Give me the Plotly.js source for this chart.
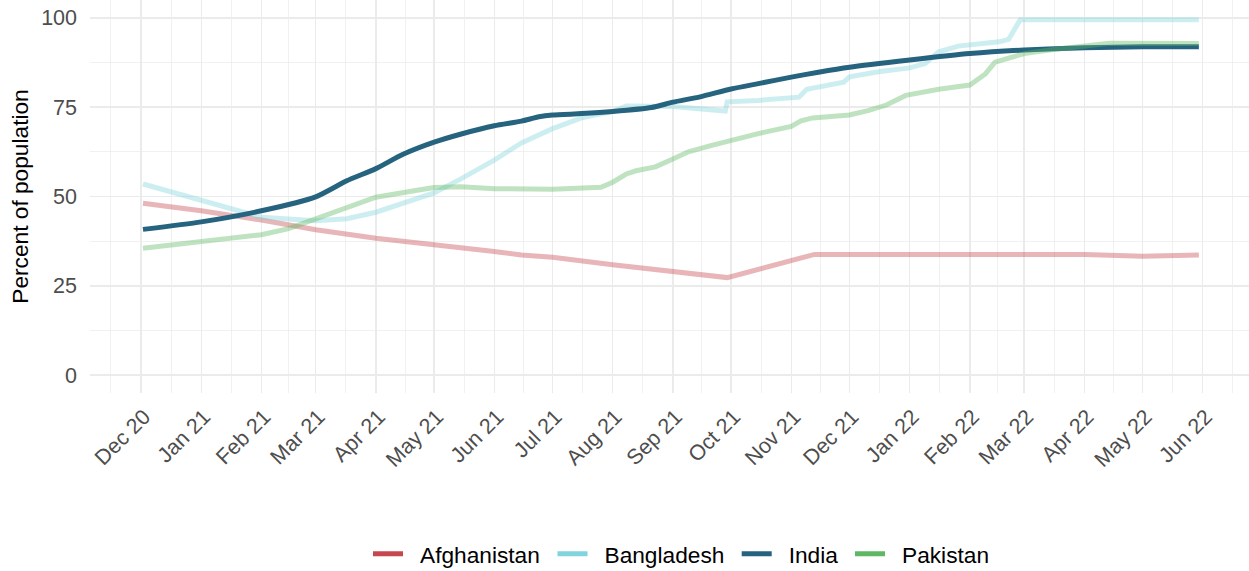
<!DOCTYPE html>
<html><head><meta charset="utf-8">
<script src="https://cdn.plot.ly/plotly-3.0.1.min.js"></script>
<style>html,body{margin:0;padding:0;background:#fff}#chart{width:1249px;height:571px}</style>
</head><body><div id="chart"></div>
<script>
const countries = ['Afghanistan', 'Bangladesh', 'India', 'Pakistan'];
const legendColors = ['#C6474F', '#82D4DC', '#26637F', '#5FB864'];
const lineColors = ['rgba(198,71,79,0.4)', 'rgba(130,212,220,0.4)', 'rgba(38,99,127,1)', 'rgba(95,184,100,0.4)'];

const afgDates = ['2020-12-02','2021-01-01','2021-02-01','2021-03-01','2021-04-01','2021-05-01','2021-06-01','2021-06-15','2021-07-01','2021-08-01','2021-09-01','2021-09-29','2021-11-13','2021-12-01','2022-01-01','2022-01-12','2022-02-01','2022-03-01','2022-04-01','2022-05-01','2022-05-30'];
const afgValues = [48.1, 46.0, 43.4, 40.7, 38.3, 36.6, 34.6, 33.6, 33.0, 30.9, 29.0, 27.3, 33.8, 33.8, 33.9, 34.1, 33.9, 34.0, 33.8, 33.3, 33.6];

const bgdDates = ['2020-12-02','2021-01-01','2021-01-21','2021-02-01','2021-03-01','2021-03-17','2021-04-01','2021-04-15','2021-05-01','2021-05-15','2021-06-01','2021-06-15','2021-07-01','2021-07-16','2021-08-01','2021-08-08','2021-09-01','2021-09-28','2021-09-29','2021-10-15','2021-11-05','2021-11-09','2021-11-28','2021-12-01','2021-12-16','2022-01-01','2022-01-09','2022-01-16','2022-01-26','2022-02-16','2022-02-21','2022-02-27','2022-05-30'];
const bgdValues = [53.5, 49.0, 45.7, 44.2, 43.2, 43.8, 45.6, 48.0, 51.0, 55.0, 60.2, 65.0, 69.0, 72.0, 73.8, 75.3, 75.2, 73.9, 76.5, 76.9, 77.8, 80.0, 82.0, 83.5, 84.9, 86.0, 87.2, 90.5, 92.1, 93.3, 94.0, 99.5, 99.5];

const indDates = ['2020-12-02','2021-01-01','2021-02-01','2021-03-01','2021-03-17','2021-04-01','2021-04-15','2021-05-01','2021-05-15','2021-06-01','2021-06-15','2021-06-24','2021-07-01','2021-07-16','2021-08-01','2021-08-21','2021-09-01','2021-09-15','2021-10-01','2021-10-15','2021-11-01','2021-11-15','2021-12-01','2022-01-01','2022-02-01','2022-03-01','2022-04-01','2022-05-01','2022-05-30'];
const indValues = [40.8, 42.9, 46.0, 49.9, 54.4, 57.8, 61.8, 65.2, 67.5, 69.8, 71.1, 72.3, 72.8, 73.2, 73.8, 74.9, 76.4, 77.9, 80.1, 81.6, 83.4, 84.8, 86.2, 88.2, 90.0, 91.0, 91.6, 91.9, 91.9];

const pakDates = ['2020-12-02','2021-01-01','2021-01-15','2021-02-01','2021-02-15','2021-03-01','2021-03-17','2021-04-01','2021-04-23','2021-05-01','2021-05-15','2021-06-01','2021-07-01','2021-07-16','2021-07-26','2021-08-01','2021-08-08','2021-08-13','2021-08-23','2021-09-01','2021-09-09','2021-09-21','2021-10-01','2021-10-15','2021-11-01','2021-11-06','2021-11-12','2021-12-01','2021-12-11','2021-12-20','2021-12-30','2022-01-16','2022-02-01','2022-02-09','2022-02-14','2022-03-01','2022-03-15','2022-04-01','2022-04-14','2022-05-30'];
const pakValues = [35.5, 37.3, 38.1, 39.3, 41.0, 43.7, 47.0, 49.8, 51.8, 52.5, 52.7, 52.2, 52.0, 52.4, 52.6, 54.0, 56.3, 57.2, 58.3, 60.5, 62.5, 64.3, 65.8, 67.6, 69.6, 71.2, 72.0, 72.8, 74.1, 75.6, 78.3, 80.0, 81.2, 84.3, 87.6, 90.0, 91.1, 92.3, 92.9, 92.8];

const tickDates = ['2020-12-01','2021-01-01','2021-02-01','2021-03-01','2021-04-01','2021-05-01','2021-06-01','2021-07-01','2021-08-01','2021-09-01','2021-10-01','2021-11-01','2021-12-01','2022-01-01','2022-02-01','2022-03-01','2022-04-01','2022-05-01','2022-06-01'];
const tickLabels = ['Dec 20','Jan 21','Feb 21','Mar 21','Apr 21','May 21','Jun 21','Jul 21','Aug 21','Sep 21','Oct 21','Nov 21','Dec 21','Jan 22','Feb 22','Mar 22','Apr 22','May 22','Jun 22'];
const yTicks = [0, 25, 50, 75, 100];

const seriesDates = [afgDates, bgdDates, indDates, pakDates];
const seriesValues = [afgValues, bgdValues, indValues, pakValues];
const seriesShape = ['linear', 'linear', 'spline', 'linear'];

function toMs(s){ return Date.parse(s + 'T00:00:00Z'); }
function fmt(ms){ return new Date(ms).toISOString().slice(0,19).replace('T',' '); }
const tickMs = tickDates.map(toMs);
const minorVals = [];
minorVals.push(fmt(tickMs[0] - (tickMs[1]-tickMs[0])/2));
for (let i = 0; i < tickMs.length - 1; i++) minorVals.push(fmt((tickMs[i] + tickMs[i+1]) / 2));
minorVals.push(fmt(tickMs[tickMs.length-1] + (tickMs[1]-tickMs[0])/2));

const FONT = 'Liberation Sans, Arial, Helvetica, sans-serif';
const traces = [];
countries.forEach((c, i) => {
  traces.push({
    x: seriesDates[i], y: seriesValues[i], type: 'scatter', mode: 'lines',
    line: {color: lineColors[i], width: 5, shape: seriesShape[i], smoothing: 0.6}, showlegend: false, hoverinfo: 'skip'
  });
});
const legendKeys = ['legend', 'legend2', 'legend3', 'legend4'];
countries.forEach((c, i) => {
  traces.push({
    x: [null], y: [null], type: 'scatter', mode: 'lines', name: c, legend: legendKeys[i],
    line: {color: legendColors[i], width: 5, dash: '30px,200px'}, hoverinfo: 'skip'
  });
});

const W = 1249, H = 571;
const legendPx = [368, 552.5, 736.7, 850];
const legendYPx = 554;

const layout = {
  width: W, height: H,
  margin: {l: 90, r: 0, t: 0, b: 178, autoexpand: false},
  paper_bgcolor: '#fff', plot_bgcolor: '#fff',
  font: {family: FONT, color: '#000'},
  xaxis: {
    type: 'date', automargin: false,
    range: ['2020-11-04 17:00', '2022-06-24 20:00'],
    tickmode: 'array', tickvals: tickDates, ticktext: tickLabels,
    tickangle: -45, ticks: '', showline: false, zeroline: false,
    ticklabelstandoff: 6, ticklabelshift: 3,
    tickfont: {size: 21.5, color: '#4D4D4D', family: FONT},
    showgrid: true, gridcolor: '#EBEBEB', gridwidth: 1.4,
    minor: {tickmode: 'array', tickvals: minorVals, showgrid: true, gridcolor: '#EBEBEB', gridwidth: 0.7, ticks: ''}
  },
  yaxis: {
    range: [-5, 105], automargin: false,
    tickmode: 'array', tickvals: yTicks,
    ticks: '', showline: false, zeroline: false,
    ticklabelstandoff: 12,
    tickfont: {size: 21.5, color: '#4D4D4D', family: FONT},
    showgrid: true, gridcolor: '#EBEBEB', gridwidth: 1.4,
    minor: {tickmode: 'linear', tick0: 0, dtick: 12.5, showgrid: true, gridcolor: '#EBEBEB', gridwidth: 0.7, ticks: ''},
    title: {text: 'Percent of population', font: {size: 22.7, color: '#000', family: FONT}, standoff: 6}
  },
  hovermode: false
};
legendKeys.forEach((k, i) => {
  layout[k] = {
    orientation: 'h', xref: 'container', yref: 'container',
    x: legendPx[i] / W, xanchor: 'left', y: 1 - legendYPx / H, yanchor: 'middle',
    font: {size: 22.7, color: '#000', family: FONT}, itemwidth: 42, bgcolor: 'rgba(0,0,0,0)'
  };
});

Plotly.newPlot('chart', traces, layout, {displayModeBar: false, staticPlot: true});
</script>
</body></html>
